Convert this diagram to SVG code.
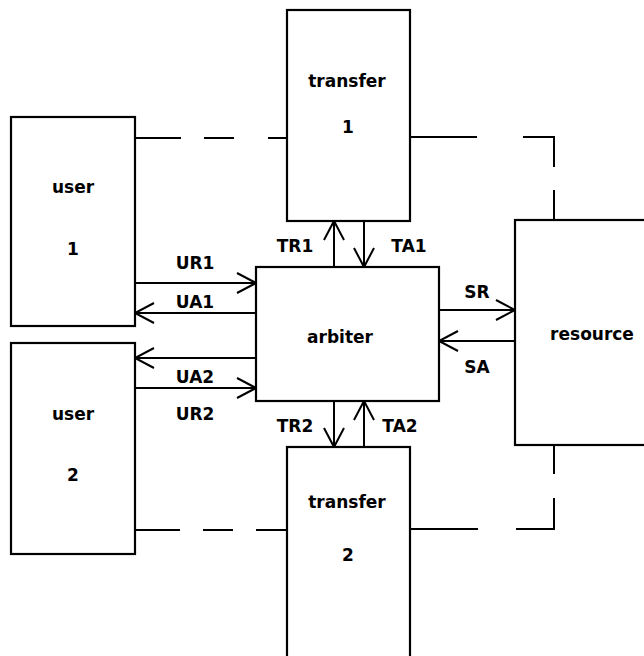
<svg xmlns="http://www.w3.org/2000/svg" width="644" height="656" viewBox="0 0 644 656">
<style>
.box{fill:#fff;stroke:#000;stroke-width:2.2}
.ln{fill:none;stroke:#000;stroke-width:2}
.t{font-family:"DejaVu Sans",sans-serif;font-weight:bold;font-size:17px;fill:#000;text-anchor:middle}
</style>
<defs>
<marker id="ah" markerUnits="userSpaceOnUse" markerWidth="24" markerHeight="24" viewBox="-21 -12 24 24" refX="0" refY="0" orient="auto">
<path d="M-19 -10 L0 0 L-19 10" fill="none" stroke="#000" stroke-width="2"/>
</marker>
</defs>
<rect width="644" height="656" fill="#fff"/>
<g id="connectors">
<path class="ln" d="M135 138 H181 M204 138 H234 M268 138 H287"/>
<path class="ln" d="M410 137 H477 M523 137 H554 V167 M554 190 V220"/>
<path class="ln" d="M135 530 H180 M203 530 H233 M256 530 H287"/>
<path class="ln" d="M410 529 H478 M516 529 H554 V498 M554 474 V445"/>
<line class="ln" x1="135" y1="283" x2="256" y2="283" marker-end="url(#ah)"/>
<line class="ln" x1="256" y1="313" x2="135" y2="313" marker-end="url(#ah)"/>
<line class="ln" x1="256" y1="358" x2="135" y2="358" marker-end="url(#ah)"/>
<line class="ln" x1="135" y1="388" x2="256" y2="388" marker-end="url(#ah)"/>
<line class="ln" x1="334" y1="267" x2="334" y2="221" marker-end="url(#ah)"/>
<line class="ln" x1="364" y1="221" x2="364" y2="267" marker-end="url(#ah)"/>
<line class="ln" x1="334" y1="401" x2="334" y2="447" marker-end="url(#ah)"/>
<line class="ln" x1="364" y1="447" x2="364" y2="401" marker-end="url(#ah)"/>
<line class="ln" x1="439" y1="310" x2="515" y2="310" marker-end="url(#ah)"/>
<line class="ln" x1="515" y1="341" x2="439" y2="341" marker-end="url(#ah)"/>
<text class="t" x="195" y="269">UR1</text>
<text class="t" x="195" y="308">UA1</text>
<text class="t" x="195" y="383">UA2</text>
<text class="t" x="195" y="420">UR2</text>
<text class="t" x="295" y="252">TR1</text>
<text class="t" x="409" y="252">TA1</text>
<text class="t" x="295" y="432">TR2</text>
<text class="t" x="400" y="432">TA2</text>
<text class="t" x="477" y="298">SR</text>
<text class="t" x="477" y="373">SA</text>
</g>
<g id="user1">
<rect class="box" x="11" y="117" width="124" height="209"/>
<text class="t" x="73" y="193">user</text>
<text class="t" x="73" y="255">1</text>
</g>
<g id="user2">
<rect class="box" x="11" y="343" width="124" height="211"/>
<text class="t" x="73" y="420">user</text>
<text class="t" x="73" y="481">2</text>
</g>
<g id="transfer1">
<rect class="box" x="287" y="10" width="123" height="211"/>
<text class="t" x="347" y="87">transfer</text>
<text class="t" x="348" y="133">1</text>
</g>
<g id="transfer2">
<rect class="box" x="287" y="447" width="123" height="215"/>
<text class="t" x="347" y="508">transfer</text>
<text class="t" x="348" y="561">2</text>
</g>
<g id="arbiter">
<rect class="box" x="256" y="267" width="183" height="134"/>
<text class="t" x="340" y="343">arbiter</text>
</g>
<g id="resource">
<rect class="box" x="515" y="220" width="140" height="225"/>
<text class="t" x="592" y="340">resource</text>
</g>
</svg>
